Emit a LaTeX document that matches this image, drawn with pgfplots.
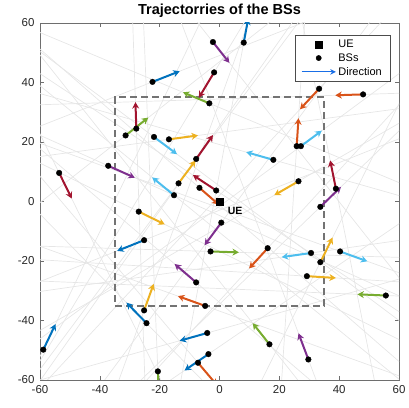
\documentclass[border=0pt]{standalone}
\usepackage{pgfplots}
\pgfplotsset{compat=1.18}
\usepackage{pgfplotstable}
\usepackage{fontspec}
\setmainfont{Liberation Sans}
\usetikzlibrary{arrows.meta}

\definecolor{mblue}{RGB}{0,114,189}
\definecolor{morange}{RGB}{217,83,25}
\definecolor{myellow}{RGB}{237,177,32}
\definecolor{mpurple}{RGB}{126,47,142}
\definecolor{mgreen}{RGB}{119,172,48}
\definecolor{mlblue}{RGB}{77,190,238}
\definecolor{mred}{RGB}{162,20,47}
\definecolor{legblue}{RGB}{25,110,230}
\definecolor{trajgray}{RGB}{230,230,230}
\definecolor{boxgray}{RGB}{115,115,115}
\definecolor{axgray}{RGB}{110,110,110}

% BS positions (x,y) and heading vectors (u,v), grouped by arrow colour
\pgfplotstableread{
x y u v
8.1 53.4 1.5 8.1
-22.4 40.2 9.1 3.6
-25.2 -13 -9.0 -3.6
-24.4 -40.9 -6.7 6.9
-58.9 -49.8 4.1 8.6
-4.1 -44.2 -9.2 -2.6
-3.7 -51.3 -8.0 -5.5
}\tblue
\pgfplotstableread{
x y u v
-6.7 4.6 6.4 -5.6
48 36 -9.3 -0.3
33.3 37.9 -6.4 -6.9
25.8 18.6 0.6 9.4
16.1 -15.7 -6.2 -6.8
-4.8 -35.1 -9.1 3.3
-7.2 -54.2 6.4 -7.6
}\torange
\pgfplotstableread{
x y u v
-16.9 20.9 9.7 1.3
-13.7 6.1 5.7 7.7
26.4 6.8 -8.1 -4.7
33.7 -20.4 4.1 8.3
29.2 -25.1 9.7 -0.6
-27 -3.4 8.7 -4.3
-25.2 -36.6 3.2 8.9
}\tyellow
\pgfplotstableread{
x y u v
-2.2 53.6 5.5 -7.0
-37.2 12.0 8.9 -4.0
33.7 -1.8 6.9 6.7
0.6 -7.1 -5.6 -7.6
29.7 -53.1 -3.3 8.8
-7.8 -27.2 -7.2 6.2
}\tpurple
\pgfplotstableread{
x y u v
-3.4 33 -8.8 3.7
-31.4 22.2 7.6 6.0
-3 -16.8 9.5 -0.3
55.6 -31.6 -9.5 0.4
16.7 -48 -5.6 7.1
-20.6 -57.1 0.4 -9.8
}\tgreen
\pgfplotstableread{
x y u v
-21.9 21.7 7.7 -5.8
-15.2 2.1 -7.3 6.0
27.2 18.6 7.0 5.2
18 14 -9.1 2.6
30.6 -17.3 -9.8 -1.4
40.3 -16.8 9.1 -3.3
}\tlblue
\pgfplotstableread{
x y u v
-1.8 43.4 -5.1 -8.5
-27.8 24.5 -0.3 8.9
-7.8 14.3 5.6 8.0
-53.6 9.6 4.2 -8.6
-1.1 3.7 -7.8 5.2
38.9 4.3 -1.9 9.5
}\tred

\pgfplotsset{
  trajfwd/.style={forget plot, no markers, trajgray, line width=0.7pt,
    quiver={u=\thisrow{u}, v=\thisrow{v}, scale arrows=16}},
  trajbwd/.style={forget plot, no markers, trajgray, line width=0.7pt,
    quiver={u=-\thisrow{u}, v=-\thisrow{v}, scale arrows=16}},
  dirarrow/.style={forget plot, no markers, line width=2pt,
    -{Stealth[length=6.5pt,width=7pt]},
    quiver={u=\thisrow{u}, v=\thisrow{v}}},
  bsdots/.style={forget plot, only marks, mark=*, mark size=2.8pt, black},
}

\begin{document}
\begin{tikzpicture}
\begin{axis}[
  scale only axis,
  width=359pt, height=357pt,
  xmin=-60, xmax=60, ymin=-60, ymax=60,
  xtick={-60,-40,...,60}, ytick={-60,-40,...,60},
  tick align=inside,
  major tick length=4pt,
  axis line style={axgray, line width=0.6pt},
  every tick/.style={axgray, line width=0.6pt},
  tick label style={font=\fontsize{11.5}{13}\selectfont, black!85},
  /pgf/number format/assume math mode=true,
  xticklabel style={yshift=-2pt},
  yticklabel style={xshift=-2pt},
  title={\textbf{Trajectorries of the BSs}},
  title style={font=\fontsize{14.5}{16}\selectfont, yshift=-4pt},
  legend cell align=left,
  legend style={at={(0.975,0.966)}, anchor=north east,
    draw=black!70, line width=0.5pt, fill=white,
    font=\fontsize{11}{13.5}\selectfont,
    row sep=0.5pt, inner xsep=6pt, inner ysep=2.5pt},
  legend entries={UE, BSs, Direction},
]
% legend samples
\addlegendimage{legend image code/.code={
  \draw[black, mark=square*, mark size=3.6pt] plot coordinates {(0.6cm,0cm)};}}
\addlegendimage{legend image code/.code={
  \draw[black, mark=*, mark size=2.6pt] plot coordinates {(0.6cm,0cm)};}}
\addlegendimage{legend image code/.code={
  \draw[legblue, line width=1.2pt, -{Stealth[length=5.5pt,width=5.5pt]}] (0.0cm,0cm) -- (1.2cm,0cm);}}

% straight trajectories through every BS
\addplot[trajfwd] table {\tblue};   \addplot[trajbwd] table {\tblue};
\addplot[trajfwd] table {\torange}; \addplot[trajbwd] table {\torange};
\addplot[trajfwd] table {\tyellow}; \addplot[trajbwd] table {\tyellow};
\addplot[trajfwd] table {\tpurple}; \addplot[trajbwd] table {\tpurple};
\addplot[trajfwd] table {\tgreen};  \addplot[trajbwd] table {\tgreen};
\addplot[trajfwd] table {\tlblue};  \addplot[trajbwd] table {\tlblue};
\addplot[trajfwd] table {\tred};    \addplot[trajbwd] table {\tred};

% region of interest
\addplot[forget plot, boxgray, line width=1.8pt, dash pattern=on 7pt off 4pt]
  coordinates {(-35,-35) (35,-35) (35,35) (-35,35) (-35,-35)};

% heading arrows
\addplot[dirarrow, mblue]   table {\tblue};
\addplot[dirarrow, morange] table {\torange};
\addplot[dirarrow, myellow] table {\tyellow};
\addplot[dirarrow, mpurple] table {\tpurple};
\addplot[dirarrow, mgreen]  table {\tgreen};
\addplot[dirarrow, mlblue]  table {\tlblue};
\addplot[dirarrow, mred]    table {\tred};

% base stations
\addplot[bsdots] table[x=x,y=y] {\tblue};
\addplot[bsdots] table[x=x,y=y] {\torange};
\addplot[bsdots] table[x=x,y=y] {\tyellow};
\addplot[bsdots] table[x=x,y=y] {\tpurple};
\addplot[bsdots] table[x=x,y=y] {\tgreen};
\addplot[bsdots] table[x=x,y=y] {\tlblue};
\addplot[bsdots] table[x=x,y=y] {\tred};

% user equipment
\addplot[forget plot, only marks, mark=square*, mark size=3.6pt, black]
  coordinates {(0,0)};
\node[anchor=west, font=\fontsize{10.5}{12}\selectfont\bfseries]
  at (axis cs:1.6,-3.3) {UE};
\end{axis}
% page margins around the axis box
\path ([xshift=-40pt,yshift=-27pt]current axis.south west)
  rectangle ([xshift=10pt,yshift=23pt]current axis.north east);
\end{tikzpicture}
\end{document}
